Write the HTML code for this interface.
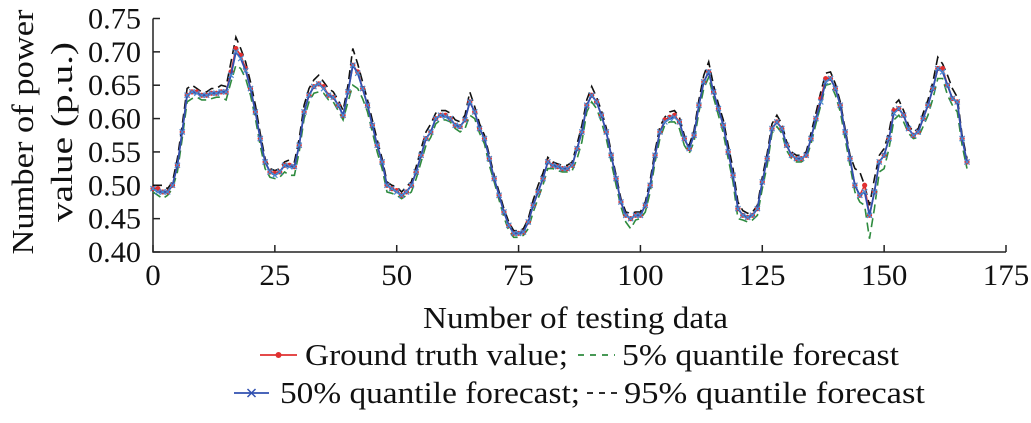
<!DOCTYPE html>
<html><head><meta charset="utf-8">
<style>
body{margin:0;background:#fff;}
svg text{font-family:"Liberation Serif",serif;fill:#111;}
</style></head>
<body>
<svg width="1031" height="418" viewBox="0 0 1031 418">
<g id="axes"></g>
<g id="series"></g>
<g id="legend"></g>
</svg>
<script>
const xTicks=[0,25,50,75,100,125,150,175];
const yTicks=[0.40,0.45,0.50,0.55,0.60,0.65,0.70,0.75];
const yTickLabels=["0.40","0.45","0.50","0.55","0.60","0.65","0.70","0.75"];
const truth=[0.495,0.495,0.49,0.49,0.50,0.53,0.58,0.635,0.64,0.64,0.635,0.635,0.638,0.638,0.64,0.64,0.67,0.705,0.695,0.675,0.645,0.61,0.57,0.535,0.52,0.518,0.52,0.53,0.53,0.528,0.56,0.61,0.635,0.648,0.652,0.648,0.635,0.632,0.62,0.605,0.64,0.68,0.67,0.645,0.62,0.59,0.56,0.535,0.50,0.495,0.492,0.485,0.49,0.50,0.52,0.545,0.57,0.58,0.60,0.605,0.605,0.60,0.59,0.588,0.598,0.625,0.61,0.585,0.57,0.54,0.51,0.485,0.46,0.44,0.428,0.428,0.43,0.445,0.47,0.49,0.51,0.535,0.53,0.528,0.525,0.525,0.53,0.555,0.58,0.62,0.635,0.625,0.605,0.58,0.545,0.51,0.475,0.455,0.45,0.455,0.455,0.47,0.50,0.545,0.58,0.598,0.602,0.605,0.595,0.57,0.555,0.575,0.62,0.655,0.67,0.64,0.615,0.59,0.55,0.515,0.465,0.455,0.452,0.455,0.465,0.505,0.54,0.585,0.595,0.585,0.56,0.545,0.54,0.54,0.545,0.57,0.60,0.63,0.66,0.66,0.645,0.62,0.58,0.54,0.50,0.485,0.50,0.455,0.49,0.535,0.545,0.57,0.612,0.615,0.605,0.585,0.575,0.58,0.60,0.62,0.645,0.675,0.675,0.65,0.63,0.625,0.57,0.535];
const q50=[0.495,0.49,0.49,0.49,0.50,0.53,0.58,0.635,0.64,0.638,0.635,0.635,0.638,0.638,0.64,0.64,0.665,0.70,0.69,0.672,0.645,0.61,0.57,0.535,0.52,0.515,0.52,0.53,0.528,0.528,0.56,0.61,0.635,0.648,0.652,0.645,0.635,0.632,0.62,0.605,0.64,0.68,0.668,0.645,0.62,0.59,0.56,0.535,0.50,0.495,0.49,0.485,0.49,0.50,0.52,0.545,0.57,0.58,0.60,0.605,0.603,0.60,0.59,0.588,0.598,0.625,0.61,0.585,0.57,0.54,0.51,0.485,0.46,0.44,0.428,0.428,0.43,0.445,0.47,0.49,0.51,0.535,0.53,0.528,0.525,0.525,0.53,0.555,0.58,0.62,0.635,0.625,0.605,0.58,0.545,0.51,0.475,0.455,0.45,0.455,0.455,0.47,0.50,0.545,0.58,0.595,0.60,0.602,0.595,0.57,0.555,0.575,0.62,0.655,0.67,0.64,0.615,0.59,0.55,0.515,0.465,0.455,0.452,0.455,0.465,0.505,0.54,0.585,0.595,0.585,0.56,0.545,0.54,0.54,0.545,0.57,0.60,0.625,0.655,0.66,0.645,0.62,0.58,0.54,0.50,0.485,0.49,0.455,0.49,0.535,0.545,0.57,0.608,0.615,0.605,0.585,0.575,0.58,0.60,0.62,0.645,0.675,0.67,0.65,0.63,0.625,0.57,0.535];
const q95=[0.50,0.50,0.50,0.495,0.505,0.54,0.59,0.645,0.65,0.645,0.64,0.64,0.645,0.645,0.65,0.648,0.685,0.722,0.705,0.685,0.655,0.62,0.578,0.54,0.525,0.522,0.525,0.535,0.538,0.535,0.57,0.62,0.645,0.658,0.665,0.655,0.645,0.64,0.628,0.612,0.65,0.705,0.682,0.655,0.628,0.598,0.568,0.54,0.505,0.5,0.498,0.49,0.498,0.505,0.528,0.555,0.58,0.592,0.608,0.612,0.612,0.608,0.598,0.595,0.605,0.64,0.618,0.592,0.575,0.545,0.515,0.49,0.465,0.445,0.432,0.432,0.435,0.45,0.478,0.5,0.518,0.542,0.535,0.532,0.53,0.53,0.535,0.562,0.59,0.628,0.648,0.632,0.612,0.586,0.55,0.515,0.48,0.46,0.458,0.46,0.46,0.475,0.508,0.552,0.588,0.602,0.61,0.612,0.602,0.575,0.56,0.582,0.628,0.665,0.685,0.65,0.622,0.598,0.56,0.525,0.475,0.462,0.458,0.46,0.47,0.512,0.548,0.592,0.605,0.592,0.565,0.55,0.545,0.545,0.55,0.578,0.608,0.64,0.668,0.67,0.652,0.625,0.585,0.545,0.525,0.52,0.50,0.47,0.51,0.545,0.555,0.58,0.62,0.628,0.612,0.59,0.58,0.585,0.608,0.628,0.655,0.692,0.682,0.665,0.645,0.632,0.575,0.54];
const q05=[0.49,0.485,0.48,0.485,0.495,0.52,0.57,0.625,0.63,0.632,0.628,0.628,0.63,0.632,0.632,0.628,0.655,0.68,0.675,0.66,0.635,0.60,0.56,0.525,0.512,0.51,0.512,0.52,0.515,0.515,0.55,0.60,0.625,0.638,0.64,0.638,0.628,0.625,0.612,0.598,0.625,0.65,0.645,0.63,0.61,0.58,0.55,0.525,0.49,0.488,0.485,0.48,0.485,0.49,0.51,0.535,0.56,0.572,0.592,0.598,0.598,0.595,0.585,0.58,0.585,0.605,0.6,0.578,0.562,0.53,0.505,0.478,0.452,0.432,0.422,0.422,0.425,0.435,0.46,0.48,0.5,0.525,0.525,0.522,0.52,0.52,0.522,0.54,0.565,0.61,0.625,0.615,0.595,0.57,0.535,0.5,0.468,0.445,0.435,0.448,0.45,0.46,0.49,0.535,0.57,0.59,0.595,0.595,0.585,0.56,0.548,0.565,0.61,0.645,0.662,0.632,0.605,0.578,0.54,0.505,0.45,0.448,0.445,0.448,0.455,0.495,0.53,0.578,0.588,0.578,0.552,0.54,0.535,0.535,0.54,0.562,0.592,0.62,0.65,0.652,0.635,0.61,0.57,0.53,0.49,0.475,0.47,0.42,0.465,0.52,0.525,0.555,0.598,0.605,0.595,0.578,0.57,0.572,0.588,0.605,0.63,0.66,0.66,0.635,0.62,0.61,0.56,0.525];

const NS="http://www.w3.org/2000/svg";
const X0=153,X1=1006,Y0=252,Y1=18.5;
function xs(v){return X0+(v-0)/(175-0)*(X1-X0);}
function ys(v){return Y0-(v-0.40)/(0.75-0.40)*(Y0-Y1);}
function mk(tag,attrs,parent){const e=document.createElementNS(NS,tag);for(const k in attrs)e.setAttribute(k,attrs[k]);parent.appendChild(e);return e;}
const axes=document.getElementById('axes'),series=document.getElementById('series'),legend=document.getElementById('legend');

let a=mk('path',{d:`M${X0},${Y1} L${X0},${Y0} L${X1},${Y0}`,fill:'none',stroke:'#222','stroke-width':1.5},axes);


xTicks.forEach(t=>{
  const tk=mk('line',{x1:xs(t),x2:xs(t),y1:Y0,y2:Y0-7,stroke:'#222','stroke-width':1.5},axes);
  
  
  const s=String(t);
  const tx=mk('text',{x:xs(t),y:285,'text-anchor':'middle','font-size':30,textLength:s.length*15.5,lengthAdjust:'spacingAndGlyphs'},axes);
  tx.textContent=s;
  
  
});
yTicks.forEach((t,i)=>{
  const tk=mk('line',{x1:X0,x2:X0+7,y1:ys(t),y2:ys(t),stroke:'#222','stroke-width':1.5},axes);
  
  
  const tx=mk('text',{x:141,y:ys(t)+10,'text-anchor':'end','font-size':30,textLength:53,lengthAdjust:'spacingAndGlyphs'},axes);
  tx.textContent=yTickLabels[i];
  
  
});
let xl=mk('text',{x:423,y:328,'font-size':31,textLength:305,lengthAdjust:'spacingAndGlyphs'},axes);
xl.textContent='Number of testing data';


let yl=mk('text',{x:0,y:0,'text-anchor':'middle','font-size':31,textLength:245,lengthAdjust:'spacingAndGlyphs',transform:'translate(33,132) rotate(-90)'},axes);
yl.textContent='Number of power';


let yl2=mk('text',{x:0,y:0,'text-anchor':'middle','font-size':31,textLength:180,lengthAdjust:'spacingAndGlyphs',transform:'translate(72,132) rotate(-90)'},axes);
yl2.textContent='value (p.u.)';



function pathOf(arr){return arr.map((v,i)=>(i?'L':'M')+xs(i).toFixed(1)+','+ys(v).toFixed(1)).join(' ');}
let p95=mk('path',{d:pathOf(q95),fill:'none',stroke:'#111','stroke-width':1.6,'stroke-dasharray':'9,5'},series);


let p05=mk('path',{d:pathOf(q05),fill:'none',stroke:'#2e8b3e','stroke-width':1.6,'stroke-dasharray':'9,5'},series);


let pt=mk('path',{d:pathOf(truth),fill:'none',stroke:'#e03030','stroke-width':1.6},series);


truth.forEach((v,i)=>{
  const c=mk('circle',{cx:xs(i),cy:ys(v),r:2.6,fill:'#e03030'},series);
  
  
});
let p50=mk('path',{d:pathOf(q50),fill:'none',stroke:'#3050b0','stroke-width':1.8},series);


q50.forEach((v,i)=>{
  const x=xs(i),y=ys(v),s=2.6;
  const m=mk('path',{d:`M${x-s},${y-s}L${x+s},${y+s}M${x-s},${y+s}L${x+s},${y-s}`,stroke:'#4a8ad0','stroke-width':1.2},series);
  
  
});

function legItem(x1,x2,y,color,dash,marker,label,tx,tw,name){
  const g=mk('g',{},legend);
  
  
  mk('line',{x1:x1,x2:x2,y1:y,y2:y,stroke:color,'stroke-width':1.8,'stroke-dasharray':dash},g);
  const cx=(x1+x2)/2;
  if(marker==='dot')mk('circle',{cx:cx,cy:y,r:3,fill:color},g);
  if(marker==='x')mk('path',{d:`M${cx-4},${y-4}L${cx+4},${y+4}M${cx-4},${y+4}L${cx+4},${y-4}`,stroke:color,'stroke-width':1.5},g);
  const t=mk('text',{x:tx,y:y+10,'font-size':31,textLength:tw,lengthAdjust:'spacingAndGlyphs'},g);
  t.textContent=label;
}
legItem(260,297,355,'#e03030','none','dot','Ground truth value;',305,263,'legend-ground-truth');
legItem(578,615,355,'#2e8b3e','6,6','', '5% quantile forecast',622,277,'legend-q05');
legItem(234,269,393,'#3050b0','none','x','50% quantile forecast;',280,300,'legend-q50');
legItem(587,618,393,'#111','6,6','','95% quantile forecast',624,301,'legend-q95');
</script>
</body></html>
